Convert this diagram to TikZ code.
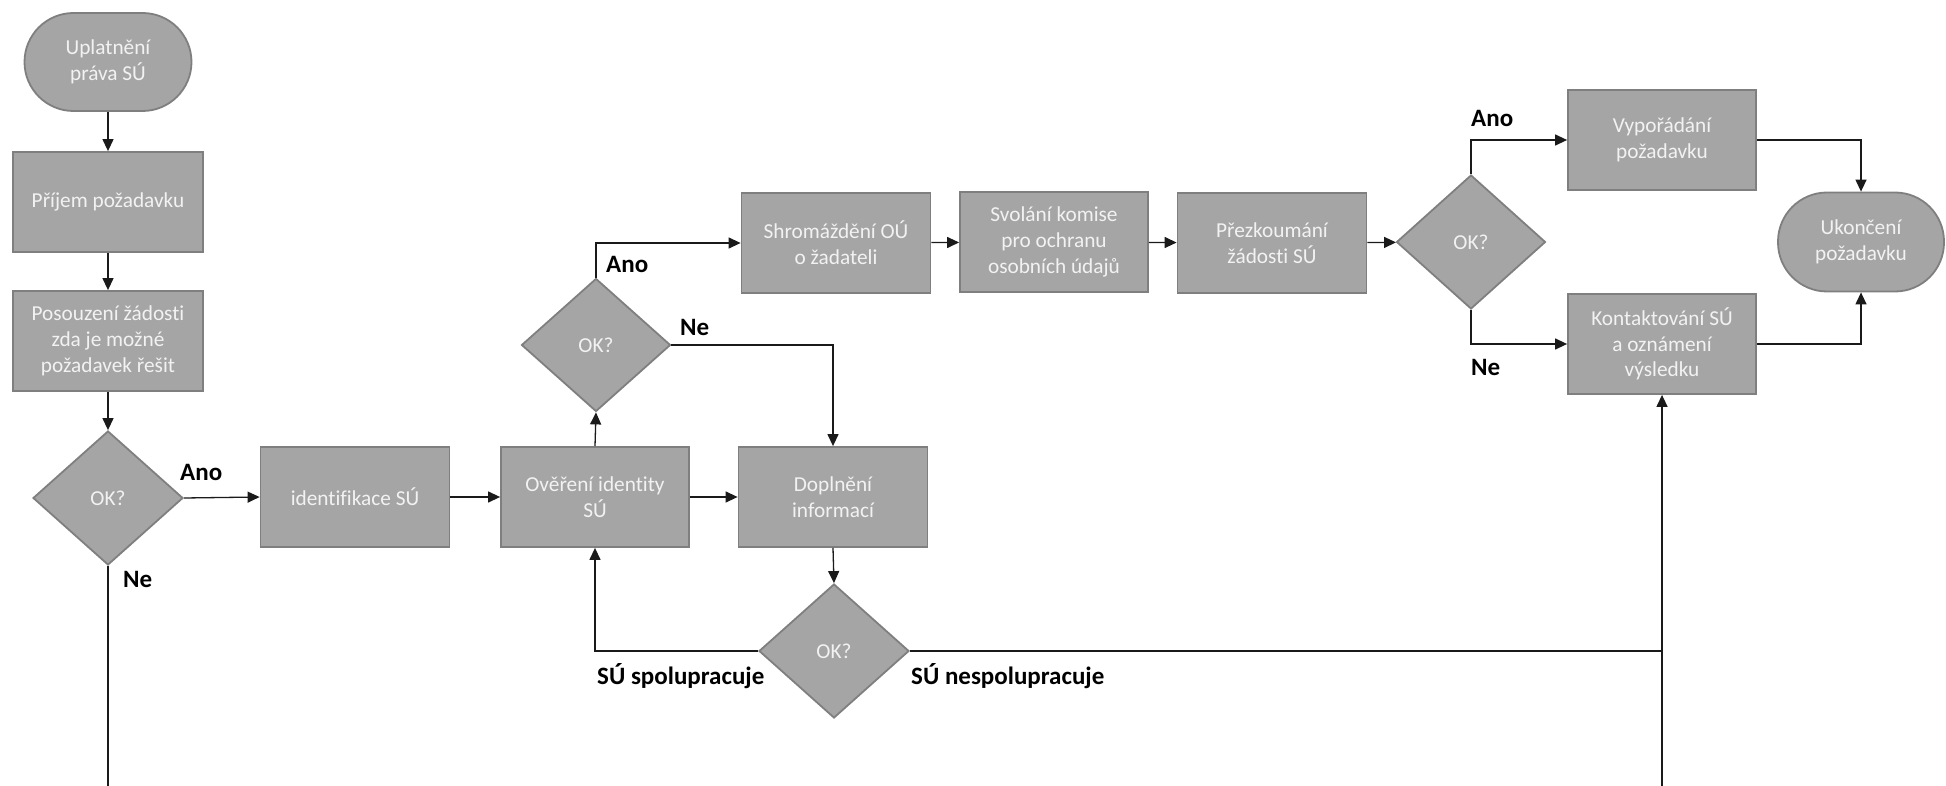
\documentclass[tikz,border=0pt]{standalone}
\usepackage{fontspec}
\setmainfont[Ligatures=NoCommon]{Carlito}
\usetikzlibrary{shapes.geometric,arrows.meta}
\definecolor{boxfill}{HTML}{A5A5A5}
\definecolor{boxline}{HTML}{7F7F7F}
\definecolor{boxtext}{HTML}{F2F2F2}
\definecolor{conn}{HTML}{1A1A1A}
\tikzset{
 shapebase/.style={fill=boxfill, draw=boxline, line width=1.8pt, text=boxtext,
   font=\fontsize{21.3}{25.8}\selectfont, align=center, inner sep=0pt},
 procbox/.style={shapebase, rectangle, minimum width=189pt, minimum height=100pt},
 termbox/.style={shapebase, rectangle, rounded corners=49pt, minimum width=167pt, minimum height=98pt},
 decbox/.style={shapebase, diamond, minimum width=150pt, minimum height=134pt},
 arr/.style={draw=conn, line width=1.3pt, -{Triangle[length=12pt,width=11pt]}},
 ln/.style={draw=conn, line width=1.3pt},
 lbl/.style={font=\bfseries\fontsize{25}{29}\selectfont, text=black, inner sep=0pt, anchor=base west},
}
\begin{document}
\begin{tikzpicture}[x=1pt,y=-1pt]
\useasboundingbox (0,0) rectangle (1946,786);
% nodes
\node[termbox] (start) at (108,62) {Uplatnění\\práva SÚ};
\node[procbox, minimum width=190pt] (recv) at (108,202) {Příjem požadavku};
\node[procbox, minimum width=190pt] (assess) at (108,341) {Posouzení žádosti\\zda je možné\\požadavek řešit};
\node[decbox] (d1) at (108,498) {OK?};
\node[procbox] (ident) at (355,497) {identifikace SÚ};
\node[procbox, minimum width=188pt] (verify) at (595,497) {Ověření identity\\SÚ};
\node[procbox] (supp) at (833,497) {Doplnění\\informací};
\node[decbox, minimum width=149pt, minimum height=133pt] (d2) at (596,345) {OK?};
\node[procbox] (gather) at (836,243) {Shromáždění OÚ\\o žadateli};
\node[procbox, minimum width=188pt] (conv) at (1054,242) {Svolání komise\\pro ochranu\\osobních údajů};
\node[procbox, minimum width=189pt] (review) at (1272,243) {Přezkoumání\\žádosti SÚ};
\node[decbox, minimum width=149pt] (d3) at (1471,242) {OK?};
\node[procbox, minimum width=188pt] (settle) at (1662,140) {Vypořádání\\požadavku};
\node[procbox, minimum width=188pt] (contact) at (1662,344) {Kontaktování SÚ\\a oznámení\\výsledku};
\node[termbox, minimum width=166pt, minimum height=99pt] (endt) at (1861,242) {Ukončení\\požadavku};
\node[decbox] (d4) at (834,651) {OK?};
\coordinate (bot1) at (108,786);
\coordinate (bot2) at (1662,786);
\coordinate (join) at (1662,651);
% connectors
\draw[arr] (start) -- (recv);
\draw[arr] (recv) -- (assess);
\draw[arr] (assess) -- (d1);
\draw[arr] (d1.east) -- (ident.west);
\draw[arr] (ident) -- (verify);
\draw[arr] (verify) -- (supp);
\draw[arr] (verify.north) -- (d2.south);
\draw[arr] (d2.north) |- (gather.west);
\draw[arr] (d2.east) -| (supp.north);
\draw[arr] (gather) -- (conv);
\draw[arr] (conv) -- (review);
\draw[arr] (review) -- (d3);
\draw[arr] (d3.north) |- (settle.west);
\draw[arr] (d3.south) |- (contact.west);
\draw[arr] (settle.east) -| (endt.north);
\draw[arr] (contact.east) -| (endt.south);
\draw[arr] (supp.south) -- (d4.north);
\draw[arr] (d4.west) -| (verify.south);
\draw[ln] (d4.east) -- (join);
\draw[arr] (bot2) -- (contact.south);
\draw[ln] (d1.south) -- (bot1);
% labels
\node[lbl] (a1) at (180,480) {Ano};
\node[lbl] (n1) at (123,587) {Ne};
\node[lbl] (a2) at (606,273) {Ano};
\node[lbl] (n2) at (680,335) {Ne};
\node[lbl] (a3) at (1471,127) {Ano};
\node[lbl] (n3) at (1471,375) {Ne};
\node[lbl] (coop) at (597,684) {SÚ spolupracuje};
\node[lbl] (ncoop) at (911,684) {SÚ nespolupracuje};
\end{tikzpicture}
\end{document}
